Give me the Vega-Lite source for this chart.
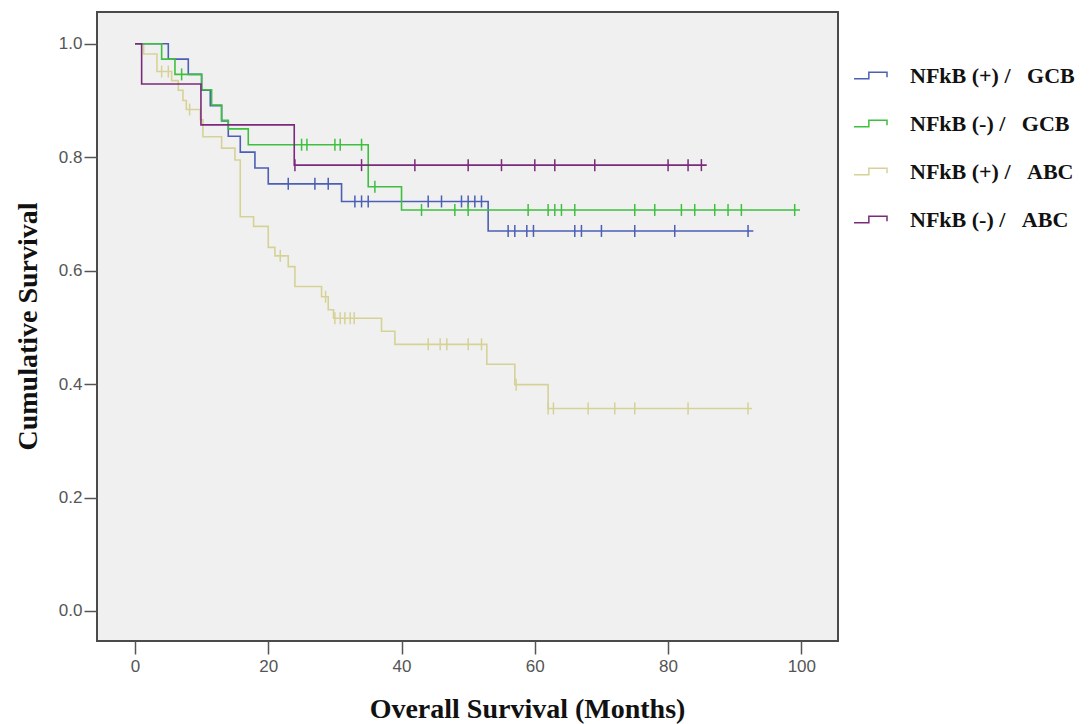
{
  "$schema": "https://vega.github.io/schema/vega-lite/v6.json",
  "width": 741,
  "height": 629,
  "autosize": "none",
  "padding": {"left": 97, "top": 12, "right": 253, "bottom": 83},
  "background": "white",
  "config": {
    "view": {"fill": "#f0f0f0", "stroke": "#4a4a4a", "strokeWidth": 2},
    "axis": {
      "domain": false, "grid": false, "ticks": true, "tickColor": "#555555", "tickWidth": 1.5, "tickSize": 13,
      "labelFont": "Liberation Sans", "labelFontSize": 17, "labelColor": "#555555",
      "titleFont": "Liberation Serif", "titleFontSize": 28, "titleFontWeight": "bold", "titleColor": "#111111"
    },
    "legend": {
      "orient": "none", "legendX": 756, "legendY": 46, "title": null,
      "symbolType": "M-1,0.2L-0.1,0.2L-0.1,-0.2L1,-0.2L1,0.1",
      "symbolSize": 1089, "symbolStrokeWidth": 1.5, "symbolFillColor": "transparent",
      "labelFont": "Liberation Serif", "labelFontSize": 22, "labelFontWeight": "bold", "labelColor": "#111111",
      "labelOffset": 22, "rowPadding": 19, "labelLimit": 400
    }
  },
  "datasets": {
    "steps": [
      {"g": "NFkB (+) / ABC", "t": 0, "s": 1},
      {"g": "NFkB (+) / ABC", "t": 1.3, "s": 0.982},
      {"g": "NFkB (+) / ABC", "t": 3.3, "s": 0.951},
      {"g": "NFkB (+) / ABC", "t": 5.5, "s": 0.935},
      {"g": "NFkB (+) / ABC", "t": 6.5, "s": 0.918},
      {"g": "NFkB (+) / ABC", "t": 7.2, "s": 0.9},
      {"g": "NFkB (+) / ABC", "t": 7.7, "s": 0.884},
      {"g": "NFkB (+) / ABC", "t": 9.8, "s": 0.866},
      {"g": "NFkB (+) / ABC", "t": 10.2, "s": 0.836},
      {"g": "NFkB (+) / ABC", "t": 13, "s": 0.816},
      {"g": "NFkB (+) / ABC", "t": 15, "s": 0.795},
      {"g": "NFkB (+) / ABC", "t": 15.8, "s": 0.695},
      {"g": "NFkB (+) / ABC", "t": 17.8, "s": 0.678},
      {"g": "NFkB (+) / ABC", "t": 20, "s": 0.641},
      {"g": "NFkB (+) / ABC", "t": 21, "s": 0.626},
      {"g": "NFkB (+) / ABC", "t": 23, "s": 0.607},
      {"g": "NFkB (+) / ABC", "t": 24, "s": 0.572},
      {"g": "NFkB (+) / ABC", "t": 28, "s": 0.554},
      {"g": "NFkB (+) / ABC", "t": 29, "s": 0.531},
      {"g": "NFkB (+) / ABC", "t": 29.8, "s": 0.516},
      {"g": "NFkB (+) / ABC", "t": 37, "s": 0.493},
      {"g": "NFkB (+) / ABC", "t": 39, "s": 0.47},
      {"g": "NFkB (+) / ABC", "t": 52.8, "s": 0.435},
      {"g": "NFkB (+) / ABC", "t": 57, "s": 0.399},
      {"g": "NFkB (+) / ABC", "t": 62, "s": 0.357},
      {"g": "NFkB (+) / ABC", "t": 92.6, "s": 0.357},
      {"g": "NFkB (+) / GCB", "t": 0, "s": 1},
      {"g": "NFkB (+) / GCB", "t": 5, "s": 0.973},
      {"g": "NFkB (+) / GCB", "t": 8, "s": 0.946},
      {"g": "NFkB (+) / GCB", "t": 10, "s": 0.918},
      {"g": "NFkB (+) / GCB", "t": 11.3, "s": 0.891},
      {"g": "NFkB (+) / GCB", "t": 13, "s": 0.864},
      {"g": "NFkB (+) / GCB", "t": 14, "s": 0.837},
      {"g": "NFkB (+) / GCB", "t": 15.8, "s": 0.809},
      {"g": "NFkB (+) / GCB", "t": 18, "s": 0.781},
      {"g": "NFkB (+) / GCB", "t": 20, "s": 0.753},
      {"g": "NFkB (+) / GCB", "t": 31, "s": 0.722},
      {"g": "NFkB (+) / GCB", "t": 53, "s": 0.67},
      {"g": "NFkB (+) / GCB", "t": 92.8, "s": 0.67},
      {"g": "NFkB (-) / GCB", "t": 0, "s": 1},
      {"g": "NFkB (-) / GCB", "t": 4, "s": 0.973},
      {"g": "NFkB (-) / GCB", "t": 6, "s": 0.946},
      {"g": "NFkB (-) / GCB", "t": 10, "s": 0.919},
      {"g": "NFkB (-) / GCB", "t": 11.5, "s": 0.892},
      {"g": "NFkB (-) / GCB", "t": 13, "s": 0.865},
      {"g": "NFkB (-) / GCB", "t": 14, "s": 0.85},
      {"g": "NFkB (-) / GCB", "t": 17, "s": 0.822},
      {"g": "NFkB (-) / GCB", "t": 35, "s": 0.748},
      {"g": "NFkB (-) / GCB", "t": 40, "s": 0.707},
      {"g": "NFkB (-) / GCB", "t": 99.8, "s": 0.707},
      {"g": "NFkB (-) / ABC", "t": 0, "s": 1},
      {"g": "NFkB (-) / ABC", "t": 1, "s": 0.929},
      {"g": "NFkB (-) / ABC", "t": 9.9, "s": 0.857},
      {"g": "NFkB (-) / ABC", "t": 23.9, "s": 0.786},
      {"g": "NFkB (-) / ABC", "t": 85.8, "s": 0.786}
    ],
    "censored": [
      {"g": "NFkB (+) / ABC", "t": 4, "s": 0.951},
      {"g": "NFkB (+) / ABC", "t": 5, "s": 0.951},
      {"g": "NFkB (+) / ABC", "t": 8.2, "s": 0.884},
      {"g": "NFkB (+) / ABC", "t": 21.8, "s": 0.626},
      {"g": "NFkB (+) / ABC", "t": 28.6, "s": 0.554},
      {"g": "NFkB (+) / ABC", "t": 30, "s": 0.516},
      {"g": "NFkB (+) / ABC", "t": 30.8, "s": 0.516},
      {"g": "NFkB (+) / ABC", "t": 31.5, "s": 0.516},
      {"g": "NFkB (+) / ABC", "t": 32.3, "s": 0.516},
      {"g": "NFkB (+) / ABC", "t": 32.9, "s": 0.516},
      {"g": "NFkB (+) / ABC", "t": 44, "s": 0.47},
      {"g": "NFkB (+) / ABC", "t": 45.8, "s": 0.47},
      {"g": "NFkB (+) / ABC", "t": 46.8, "s": 0.47},
      {"g": "NFkB (+) / ABC", "t": 50, "s": 0.47},
      {"g": "NFkB (+) / ABC", "t": 52, "s": 0.47},
      {"g": "NFkB (+) / ABC", "t": 57.2, "s": 0.399},
      {"g": "NFkB (+) / ABC", "t": 62, "s": 0.357},
      {"g": "NFkB (+) / ABC", "t": 62.8, "s": 0.357},
      {"g": "NFkB (+) / ABC", "t": 68, "s": 0.357},
      {"g": "NFkB (+) / ABC", "t": 72, "s": 0.357},
      {"g": "NFkB (+) / ABC", "t": 75, "s": 0.357},
      {"g": "NFkB (+) / ABC", "t": 83, "s": 0.357},
      {"g": "NFkB (+) / ABC", "t": 92, "s": 0.357},
      {"g": "NFkB (+) / GCB", "t": 23, "s": 0.753},
      {"g": "NFkB (+) / GCB", "t": 27, "s": 0.753},
      {"g": "NFkB (+) / GCB", "t": 29, "s": 0.753},
      {"g": "NFkB (+) / GCB", "t": 33, "s": 0.722},
      {"g": "NFkB (+) / GCB", "t": 34, "s": 0.722},
      {"g": "NFkB (+) / GCB", "t": 35, "s": 0.722},
      {"g": "NFkB (+) / GCB", "t": 44, "s": 0.722},
      {"g": "NFkB (+) / GCB", "t": 46, "s": 0.722},
      {"g": "NFkB (+) / GCB", "t": 49, "s": 0.722},
      {"g": "NFkB (+) / GCB", "t": 50, "s": 0.722},
      {"g": "NFkB (+) / GCB", "t": 51, "s": 0.722},
      {"g": "NFkB (+) / GCB", "t": 52, "s": 0.722},
      {"g": "NFkB (+) / GCB", "t": 56, "s": 0.67},
      {"g": "NFkB (+) / GCB", "t": 57, "s": 0.67},
      {"g": "NFkB (+) / GCB", "t": 58.8, "s": 0.67},
      {"g": "NFkB (+) / GCB", "t": 59.8, "s": 0.67},
      {"g": "NFkB (+) / GCB", "t": 66, "s": 0.67},
      {"g": "NFkB (+) / GCB", "t": 67, "s": 0.67},
      {"g": "NFkB (+) / GCB", "t": 70, "s": 0.67},
      {"g": "NFkB (+) / GCB", "t": 75, "s": 0.67},
      {"g": "NFkB (+) / GCB", "t": 81, "s": 0.67},
      {"g": "NFkB (+) / GCB", "t": 92, "s": 0.67},
      {"g": "NFkB (-) / GCB", "t": 7, "s": 0.946},
      {"g": "NFkB (-) / GCB", "t": 25, "s": 0.822},
      {"g": "NFkB (-) / GCB", "t": 25.8, "s": 0.822},
      {"g": "NFkB (-) / GCB", "t": 30, "s": 0.822},
      {"g": "NFkB (-) / GCB", "t": 30.8, "s": 0.822},
      {"g": "NFkB (-) / GCB", "t": 34, "s": 0.822},
      {"g": "NFkB (-) / GCB", "t": 36, "s": 0.748},
      {"g": "NFkB (-) / GCB", "t": 43, "s": 0.707},
      {"g": "NFkB (-) / GCB", "t": 48, "s": 0.707},
      {"g": "NFkB (-) / GCB", "t": 50, "s": 0.707},
      {"g": "NFkB (-) / GCB", "t": 59, "s": 0.707},
      {"g": "NFkB (-) / GCB", "t": 62, "s": 0.707},
      {"g": "NFkB (-) / GCB", "t": 63, "s": 0.707},
      {"g": "NFkB (-) / GCB", "t": 64, "s": 0.707},
      {"g": "NFkB (-) / GCB", "t": 66, "s": 0.707},
      {"g": "NFkB (-) / GCB", "t": 75, "s": 0.707},
      {"g": "NFkB (-) / GCB", "t": 78, "s": 0.707},
      {"g": "NFkB (-) / GCB", "t": 82, "s": 0.707},
      {"g": "NFkB (-) / GCB", "t": 84, "s": 0.707},
      {"g": "NFkB (-) / GCB", "t": 87, "s": 0.707},
      {"g": "NFkB (-) / GCB", "t": 89, "s": 0.707},
      {"g": "NFkB (-) / GCB", "t": 91, "s": 0.707},
      {"g": "NFkB (-) / GCB", "t": 99, "s": 0.707},
      {"g": "NFkB (-) / ABC", "t": 24, "s": 0.786},
      {"g": "NFkB (-) / ABC", "t": 34, "s": 0.786},
      {"g": "NFkB (-) / ABC", "t": 42, "s": 0.786},
      {"g": "NFkB (-) / ABC", "t": 50, "s": 0.786},
      {"g": "NFkB (-) / ABC", "t": 55, "s": 0.786},
      {"g": "NFkB (-) / ABC", "t": 60, "s": 0.786},
      {"g": "NFkB (-) / ABC", "t": 63, "s": 0.786},
      {"g": "NFkB (-) / ABC", "t": 69, "s": 0.786},
      {"g": "NFkB (-) / ABC", "t": 80, "s": 0.786},
      {"g": "NFkB (-) / ABC", "t": 83, "s": 0.786},
      {"g": "NFkB (-) / ABC", "t": 85, "s": 0.786}
    ]
  },
  "encoding": {
    "x": {
      "field": "t", "type": "quantitative",
      "scale": {"domain": [-5.7, 105.5], "nice": false, "zero": false},
      "axis": {
        "values": [0, 20, 40, 60, 80, 100], "labelPadding": 4,
        "title": "Overall Survival (Months)", "titleX": 430, "titleY": 76,
        "titleAlign": "center", "titleBaseline": "alphabetic"
      }
    },
    "y": {
      "field": "s", "type": "quantitative",
      "scale": {"domain": [-0.053, 1.056], "nice": false, "zero": false},
      "axis": {
        "values": [0, 0.2, 0.4, 0.6, 0.8, 1], "format": ".1f", "labelPadding": 2,
        "title": "Cumulative Survival", "titleX": -61, "titleY": 314, "titleAngle": -90,
        "titleAlign": "center", "titleBaseline": "alphabetic"
      }
    },
    "color": {
      "field": "g", "type": "nominal",
      "scale": {
        "domain": ["NFkB (+) / GCB", "NFkB (-) / GCB", "NFkB (+) / ABC", "NFkB (-) / ABC"],
        "range": ["#4b5fb4", "#3fbf3f", "#d6d296", "#7a2a7a"]
      },
      "legend": {"labelExpr": "replace(datum.label, ' / ', '\u00a0/\u00a0\u00a0\u00a0')"}
    }
  },
  "layer": [
    {
      "data": {"name": "steps"},
      "mark": {"type": "line", "interpolate": "step-after", "strokeWidth": 1.6}
    },
    {
      "data": {"name": "censored"},
      "mark": {"type": "point", "shape": "M0,-1L0,1", "filled": false, "size": 144, "strokeWidth": 1.5, "opacity": 1}
    }
  ]
}
